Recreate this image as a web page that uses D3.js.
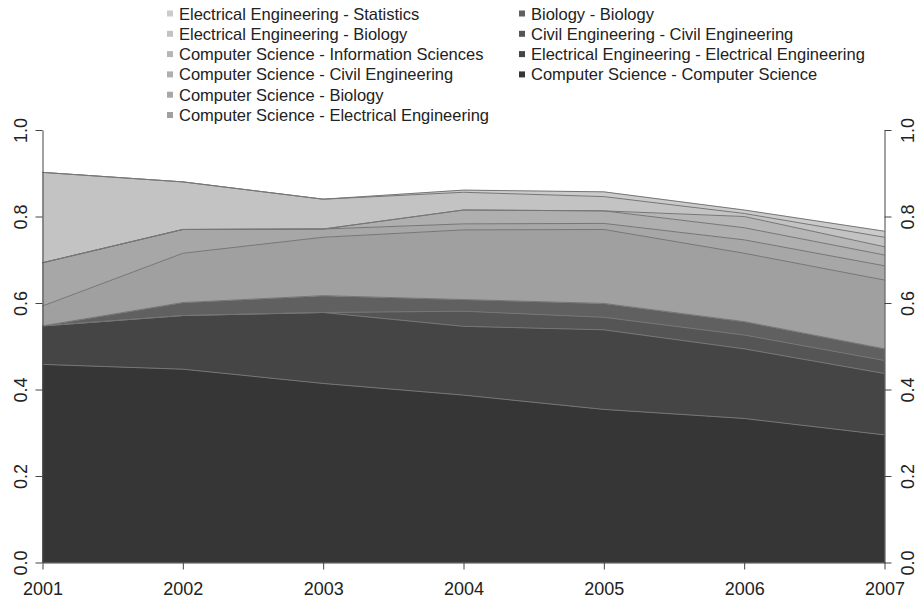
<!DOCTYPE html>
<html>
<head>
<meta charset="utf-8">
<script src="https://cdn.jsdelivr.net/npm/d3@7"></script>
<style>
  html, body { margin: 0; padding: 0; background: #ffffff; }
  svg { display: block; font-family: "Liberation Sans", Arial, Helvetica, sans-serif; }
</style>
</head>
<body>
<svg id="chart" width="922" height="598"></svg>
<script>
// ---- data (stack order bottom -> top) ----
const years = [2001, 2002, 2003, 2004, 2005, 2006, 2007];
const seriesNames = [
  "Computer Science - Computer Science",
  "Electrical Engineering - Electrical Engineering",
  "Civil Engineering - Civil Engineering",
  "Biology - Biology",
  "Computer Science - Electrical Engineering",
  "Computer Science - Biology",
  "Computer Science - Civil Engineering",
  "Computer Science - Information Sciences",
  "Electrical Engineering - Biology",
  "Electrical Engineering - Statistics"
];
const csCs   = [0.458, 0.447, 0.414, 0.387, 0.354, 0.333, 0.295];
const eeEe   = [0.089, 0.124, 0.164, 0.159, 0.184, 0.161, 0.142];
const ceCe   = [0.000, 0.000, 0.000, 0.035, 0.029, 0.032, 0.030];
const bioBio = [0.000, 0.030, 0.039, 0.027, 0.032, 0.031, 0.027];
const csEe   = [0.046, 0.114, 0.135, 0.161, 0.171, 0.158, 0.159];
const csBio  = [0.100, 0.055, 0.019, 0.014, 0.014, 0.031, 0.033];
const csCe   = [0.000, 0.000, 0.000, 0.032, 0.029, 0.028, 0.025];
const csIs   = [0.000, 0.000, 0.000, 0.000, 0.000, 0.026, 0.019];
const eeBio  = [0.209, 0.110, 0.069, 0.041, 0.033, 0.007, 0.022];
const eeStat = [0.000, 0.000, 0.000, 0.005, 0.011, 0.008, 0.014];
const seriesValues = [csCs, eeEe, ceCe, bioBio, csEe, csBio, csCe, csIs, eeBio, eeStat];
const yTickLabels = ["0.0", "0.2", "0.4", "0.6", "0.8", "1.0"];
const fillColors = ["#363636", "#454545", "#555555", "#606060", "#a0a0a0",
                    "#a7a7a7", "#afafaf", "#b6b6b6", "#c3c3c3", "#cbcbcb"];

// ---- build table ----
const table = years.map((yr, i) => {
  const row = { year: yr };
  seriesNames.forEach((n, k) => { row[n] = seriesValues[k][i]; });
  return row;
});
const stacked = d3.stack().keys(seriesNames)(table);

const svg = d3.select("#chart");
const x = d3.scaleLinear().domain([2001, 2007]).range([42.5, 884.5]);
const y = d3.scaleLinear().domain([0, 1]).range([562.5, 130]);
const color = d3.scaleOrdinal().domain(seriesNames).range(fillColors);

const area = d3.area()
  .x(d => x(d.data.year))
  .y0(d => y(d[0]))
  .y1(d => y(d[1]));
const topLine = d3.line()
  .x(d => x(d.data.year))
  .y(d => y(d[1]));

const plot = svg.append("g");
plot.selectAll("path.layer")
  .data(stacked)
  .join("path")
  .attr("class", "layer")
  .attr("d", area)
  .attr("fill", d => color(d.key))
  .attr("stroke", d => color(d.key))
  .attr("stroke-width", 0.5);
plot.selectAll("path.edge")
  .data(stacked)
  .join("path")
  .attr("class", "edge")
  .attr("d", topLine)
  .attr("fill", "none")
  .attr("stroke", "#767676")
  .attr("stroke-width", 1);

// ---- axes ----
const axisColor = "#444";
const yTickVals = yTickLabels.map(Number);

const gLeft = svg.append("g").attr("transform", `translate(${x(2001)},0)`)
  .call(d3.axisLeft(y).tickValues(yTickVals).tickFormat((d, i) => yTickLabels[i])
    .tickSize(7).tickSizeOuter(0));
const gRight = svg.append("g").attr("transform", `translate(${x(2007)},0)`)
  .call(d3.axisRight(y).tickValues(yTickVals).tickFormat((d, i) => yTickLabels[i])
    .tickSize(7).tickSizeOuter(0));
const gBottom = svg.append("g").attr("transform", `translate(0,${y(0)})`)
  .call(d3.axisBottom(x).tickValues(years).tickFormat(d3.format("d"))
    .tickSize(7).tickSizeOuter(0).tickPadding(13));

[gLeft, gRight, gBottom].forEach(g => {
  g.select(".domain").attr("stroke", axisColor);
  g.selectAll(".tick line").attr("stroke", axisColor);
  g.selectAll(".tick text")
    .attr("fill", "#222")
    .attr("font-size", 18)
    .attr("font-family", "'Liberation Sans', Arial, sans-serif");
});
gLeft.selectAll(".tick text")
  .attr("x", null).attr("dy", null)
  .attr("text-anchor", "middle")
  .attr("dominant-baseline", "central")
  .attr("transform", "translate(-22,0) rotate(-90)");
gRight.selectAll(".tick text")
  .attr("x", null).attr("dy", null)
  .attr("text-anchor", "middle")
  .attr("dominant-baseline", "central")
  .attr("transform", "translate(23,0) rotate(-90)");

// ---- legend ----
const legendOrder = seriesNames.slice().reverse();
const colStarts = [179, 531];
const rowY0 = 13.5, rowStep = 20.3;
const legend = svg.append("g");
legendOrder.forEach((name, i) => {
  const col = i < 6 ? 0 : 1;
  const row = i < 6 ? i : i - 6;
  const cy = rowY0 + row * rowStep;
  const tx = colStarts[col];
  legend.append("rect")
    .attr("x", tx - 12).attr("y", cy - 3)
    .attr("width", 6).attr("height", 6)
    .attr("fill", color(name));
  legend.append("text")
    .attr("x", tx).attr("y", cy)
    .attr("dominant-baseline", "central")
    .attr("font-size", 16.5)
    .attr("fill", "#222")
    .text(name);
});
</script>
</body>
</html>
